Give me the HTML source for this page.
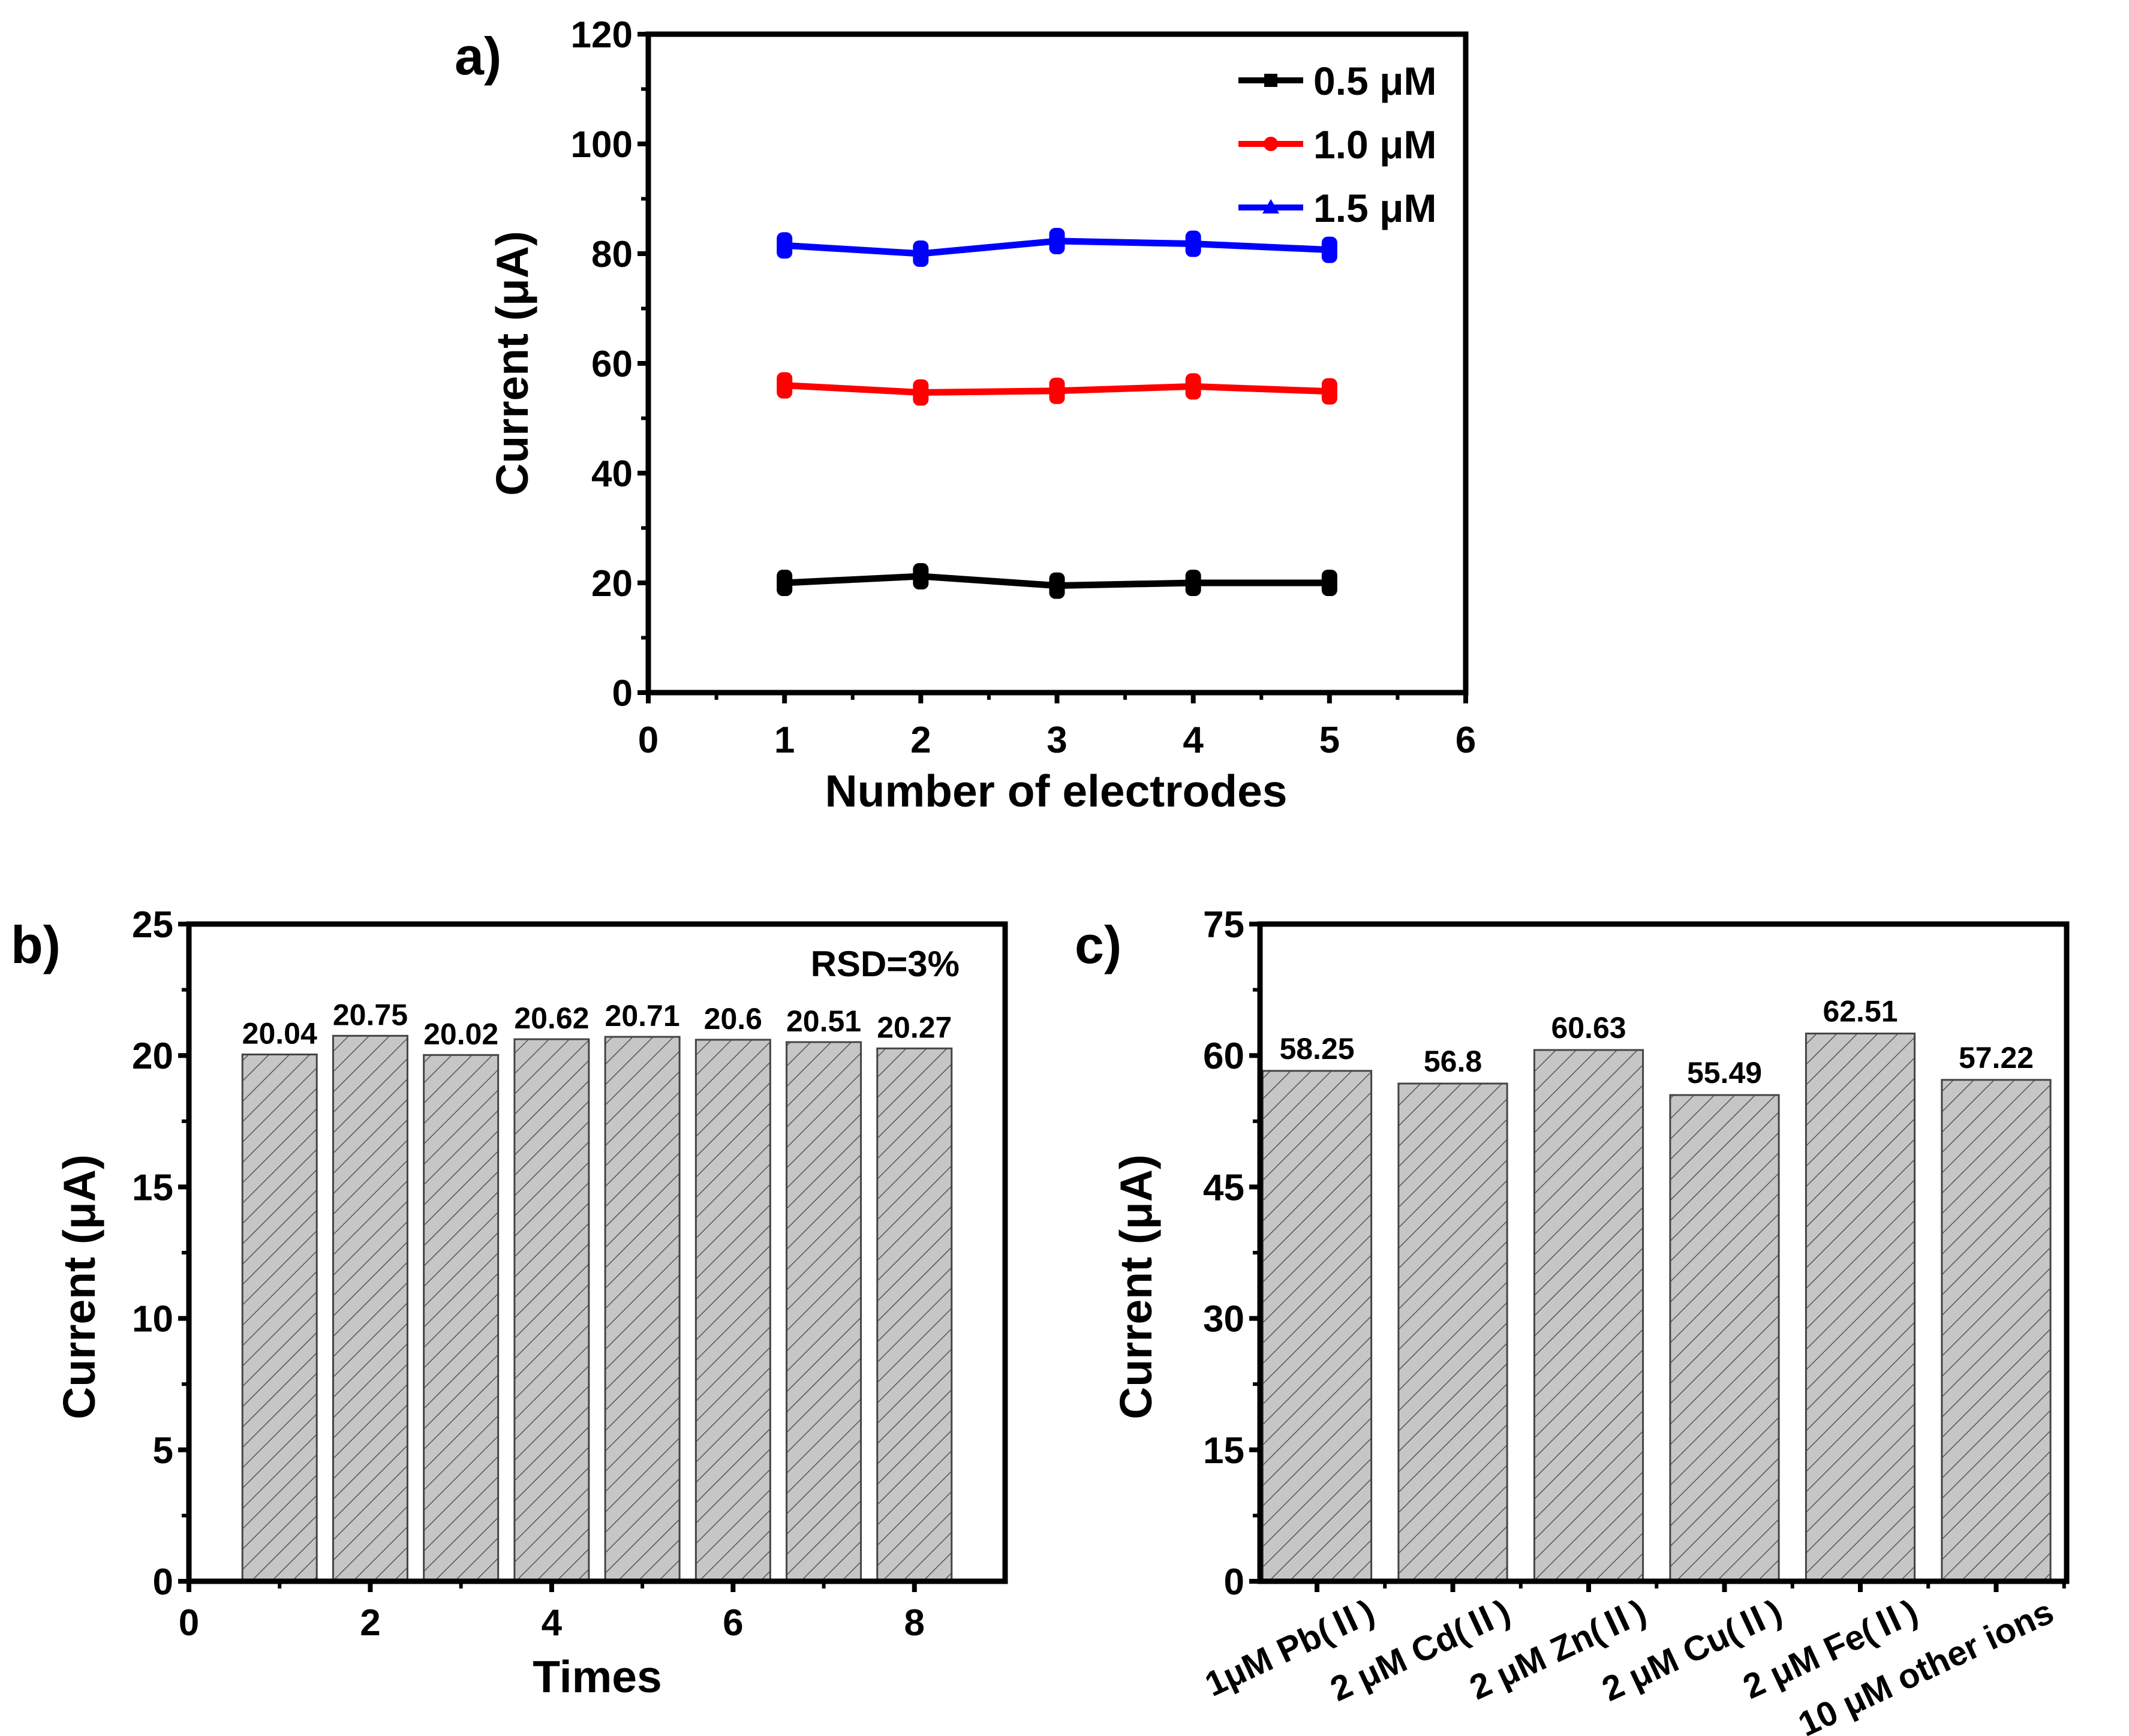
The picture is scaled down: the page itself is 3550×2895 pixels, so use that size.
<!DOCTYPE html>
<html><head><meta charset="utf-8"><style>
body{margin:0;background:#fff}
svg{display:block;font-family:"Liberation Sans","Noto Sans CJK SC",sans-serif;font-weight:bold}
</style></head><body>
<svg id="fig" width="3550" height="2895" viewBox="0 0 3550 2895" xmlns="http://www.w3.org/2000/svg">
<defs>
<pattern id="hatch" patternUnits="userSpaceOnUse" width="24" height="24" patternTransform="rotate(45)">
<rect width="24" height="24" fill="#c6c6c6"/>
<line x1="0" y1="0" x2="0" y2="24" stroke="#555" stroke-width="3"/>
</pattern>
</defs>
<g id="pa"></g>
<g id="pb"></g>
<g id="pc"></g>
</svg>
<script>
// Panel a data
const aX = [1, 2, 3, 4, 5];
const aBlack = [20.0, 21.2, 19.5, 20.0, 20.0];
const aRed = [56.0, 54.7, 55.0, 55.8, 54.9];
const aBlue = [81.5, 80.0, 82.3, 81.8, 80.7];
const aSeriesNames = ["0.5 μM", "1.0 μM", "1.5 μM"];
const aYTicks = [0, 20, 40, 60, 80, 100, 120];
const aXTicks = [0, 1, 2, 3, 4, 5, 6];
// Panel b data
const bCats = [1, 2, 3, 4, 5, 6, 7, 8];
const bVals = [20.04, 20.75, 20.02, 20.62, 20.71, 20.6, 20.51, 20.27];
const bLabels = ["20.04", "20.75", "20.02", "20.62", "20.71", "20.6", "20.51", "20.27"];
const bYTicks = [0, 5, 10, 15, 20, 25];
const bXTicks = [0, 2, 4, 6, 8];
// Panel c data
const cCats = ["1μM Pb(Ⅱ)", "2 μM Cd(Ⅱ)", "2 μM Zn(Ⅱ)", "2 μM Cu(Ⅱ)", "2 μM Fe(Ⅱ)", "10 μM other ions"];
const cVals = [58.25, 56.8, 60.63, 55.49, 62.51, 57.22];
const cLabels = ["58.25", "56.8", "60.63", "55.49", "62.51", "57.22"];
const cYTicks = [0, 15, 30, 45, 60, 75];

const NS = "http://www.w3.org/2000/svg";
function mk(parent, tag, attrs, text) {
  const e = document.createElementNS(NS, tag);
  for (const k in attrs) e.setAttribute(k, attrs[k]);
  if (text !== undefined) e.textContent = text;
  parent.appendChild(e);
  return e;
}
function frame(g, L, T, R, B) {
  const f = mk(g, "rect", {x: L, y: T, width: R - L, height: B - T, fill: "none", stroke: "#000", "stroke-width": 9});
  
  
}
function yAxis(g, L, sy, ticks, minorStep, ymax) {
  ticks.forEach(v => {
    mk(g, "line", {x1: L - 18, x2: L, y1: sy(v), y2: sy(v), stroke: "#000", "stroke-width": 8});
    const t = mk(g, "text", {x: L - 26, y: sy(v) + 22, "text-anchor": "end", "font-size": 62}, String(v));
    
    
  });
  for (let v = minorStep; v < ymax; v += minorStep) {
    mk(g, "line", {x1: L - 12, x2: L, y1: sy(v), y2: sy(v), stroke: "#000", "stroke-width": 6});
  }
}
function text(g, x, y, s, size, name, extra) {
  const t = mk(g, "text", Object.assign({x: x, y: y, "font-size": size}, extra || {}), s);
  
  
  return t;
}

// ---------- Panel a ----------
(function () {
  const g = document.getElementById("pa");
  const L = 1081, R = 2444, T = 57, B = 1155;
  const sx = v => L + (v - 0) / 6 * (R - L);
  const sy = v => B - v / 120 * (B - T);
  frame(g, L, T, R, B);
  yAxis(g, L, sy, aYTicks, 10, 120);
  aXTicks.forEach(v => {
    mk(g, "line", {x1: sx(v), x2: sx(v), y1: B, y2: B + 18, stroke: "#000", "stroke-width": 8});
    text(g, sx(v), B + 100, String(v), 62, "x-tick-label", {"text-anchor": "middle"});
  });
  for (let v = 0.5; v < 6; v += 1) mk(g, "line", {x1: sx(v), x2: sx(v), y1: B, y2: B + 12, stroke: "#000", "stroke-width": 6});
  text(g, 1761, 1345, "Number of electrodes", 75, "x-axis-title", {"text-anchor": "middle"});
  text(g, 880, 606, "Current (μA)", 75, "y-axis-title", {"text-anchor": "middle", transform: "rotate(-90 880 606)"});
  text(g, 758, 124, "a)", 88, "panel-label-a");
  const series = [[aBlack, "#000", "sq"], [aRed, "#f00", "ci"], [aBlue, "#00f", "tri"]];
  series.forEach((s, si) => {
    const vals = s[0], col = s[1];
    const pts = aX.map((x, i) => sx(x) + "," + sy(vals[i])).join(" ");
    const pl = mk(g, "polyline", {points: pts, fill: "none", stroke: col, "stroke-width": 11});
    
    
    aX.forEach((x, i) => {
      const cx = sx(x), cy = sy(vals[i]);
      const eb = mk(g, "rect", {x: cx - 13, y: cy - 22, width: 26, height: 44, rx: 10, fill: col});
      
      
    });
    const ly = [134, 240, 346][si];
    mk(g, "line", {x1: 2065, x2: 2173, y1: ly, y2: ly, stroke: col, "stroke-width": 10});
    if (s[2] === "sq") mk(g, "rect", {x: 2108, y: ly - 11, width: 22, height: 22, fill: col});
    if (s[2] === "ci") mk(g, "circle", {cx: 2119, cy: ly, r: 12, fill: col});
    if (s[2] === "tri") mk(g, "polygon", {points: `2105,${ly + 10} 2133,${ly + 10} 2119,${ly - 14}`, fill: col});
    text(g, 2190, ly + 24, aSeriesNames[si], 66, "legend-entry");
  });
})();

// ---------- Panel b ----------
(function () {
  const g = document.getElementById("pb");
  const L = 315, R = 1676, T = 1541, B = 2637;
  const sx = v => L + v / 9 * (R - L);
  const sy = v => B - v / 25 * (B - T);
  const bw = 0.82 * (R - L) / 9;
  bCats.forEach((c, i) => {
    const r = mk(g, "rect", {x: sx(c) - bw / 2, y: sy(bVals[i]), width: bw, height: B - sy(bVals[i]), fill: "url(#hatch)", stroke: "#444", "stroke-width": 3});
    
    
    text(g, sx(c), sy(bVals[i]) - 18, bLabels[i], 50, "bar-value-label", {"text-anchor": "middle"});
  });
  frame(g, L, T, R, B);
  yAxis(g, L, sy, bYTicks, 2.5, 25);
  bXTicks.forEach(v => {
    mk(g, "line", {x1: sx(v), x2: sx(v), y1: B, y2: B + 18, stroke: "#000", "stroke-width": 8});
    text(g, sx(v), B + 90, String(v), 62, "x-tick-label", {"text-anchor": "middle"});
  });
  for (let v = 1; v < 9; v += 2) mk(g, "line", {x1: sx(v), x2: sx(v), y1: B, y2: B + 12, stroke: "#000", "stroke-width": 6});
  text(g, 996, 2822, "Times", 75, "x-axis-title", {"text-anchor": "middle"});
  text(g, 158, 2146, "Current (μA)", 75, "y-axis-title", {"text-anchor": "middle", transform: "rotate(-90 158 2146)"});
  text(g, 1600, 1628, "RSD=3%", 60, "rsd-annotation", {"text-anchor": "end"});
  text(g, 18, 1606, "b)", 88, "panel-label-b");
})();

// ---------- Panel c ----------
(function () {
  const g = document.getElementById("pc");
  const L = 2101, R = 3446, T = 1541, B = 2637;
  const step = 226.5;
  const sx = i => 2196 + i * step;
  const sy = v => B - v / 75 * (B - T);
  const bw = 0.8 * step;
  cVals.forEach((v, i) => {
    const r = mk(g, "rect", {x: sx(i) - bw / 2, y: sy(v), width: bw, height: B - sy(v), fill: "url(#hatch)", stroke: "#444", "stroke-width": 3});
    
    
    text(g, sx(i), sy(v) - 20, cLabels[i], 50, "bar-value-label", {"text-anchor": "middle"});
    mk(g, "line", {x1: sx(i), x2: sx(i), y1: B, y2: B + 18, stroke: "#000", "stroke-width": 8});
    mk(g, "line", {x1: sx(i) + step / 2, x2: sx(i) + step / 2, y1: B, y2: B + 12, stroke: "#000", "stroke-width": 6});
    const tx = sx(i) + 100, ty = B + 65;
    text(g, tx, ty, cCats[i], 58, "x-category-label", {"text-anchor": "end", transform: `rotate(-25 ${tx} ${ty})`});
  });
  frame(g, L, T, R, B);
  yAxis(g, L, sy, cYTicks, 7.5, 75);
  text(g, 1920, 2146, "Current (μA)", 75, "y-axis-title", {"text-anchor": "middle", transform: "rotate(-90 1920 2146)"});
  text(g, 1792, 1606, "c)", 88, "panel-label-c");
})();
</script>
</body></html>
